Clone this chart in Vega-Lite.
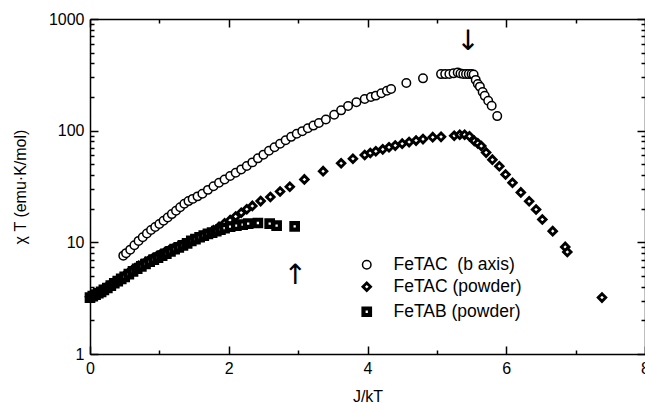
{
  "$schema": "https://vega.github.io/schema/vega-lite/v6.json",
  "width": 555,
  "height": 335,
  "autosize": {"type": "none"},
  "padding": {"left": 90, "top": 19, "right": 0, "bottom": 57},
  "background": "white",
  "config": {
    "view": {"stroke": null},
    "axis": {
      "domainColor": "black",
      "domainWidth": 1.5,
      "tickColor": "black",
      "tickWidth": 1.5,
      "grid": false,
      "labelFont": "Liberation Sans",
      "labelFontSize": 16,
      "labelColor": "black",
      "labelFlush": false,
      "labelOverlap": false,
      "titleFont": "Liberation Sans",
      "titleFontSize": 16,
      "titleFontWeight": "normal",
      "titleColor": "black"
    },
    "legend": {
      "labelFont": "Liberation Sans",
      "labelFontSize": 17.5,
      "labelColor": "black"
    }
  },
  "datasets": {
    "pts": [
      {"series": "FeTAC\u00a0 (b axis)", "jkt": 0.48, "chiT": 7.6},
      {"series": "FeTAC\u00a0 (b axis)", "jkt": 0.52, "chiT": 8.0},
      {"series": "FeTAC\u00a0 (b axis)", "jkt": 0.58, "chiT": 8.6},
      {"series": "FeTAC\u00a0 (b axis)", "jkt": 0.64, "chiT": 9.4},
      {"series": "FeTAC\u00a0 (b axis)", "jkt": 0.70, "chiT": 10.3},
      {"series": "FeTAC\u00a0 (b axis)", "jkt": 0.76, "chiT": 11.1},
      {"series": "FeTAC\u00a0 (b axis)", "jkt": 0.82, "chiT": 12.0},
      {"series": "FeTAC\u00a0 (b axis)", "jkt": 0.88, "chiT": 12.9},
      {"series": "FeTAC\u00a0 (b axis)", "jkt": 0.94, "chiT": 13.7},
      {"series": "FeTAC\u00a0 (b axis)", "jkt": 1.00, "chiT": 14.6},
      {"series": "FeTAC\u00a0 (b axis)", "jkt": 1.06, "chiT": 15.6},
      {"series": "FeTAC\u00a0 (b axis)", "jkt": 1.12, "chiT": 16.7},
      {"series": "FeTAC\u00a0 (b axis)", "jkt": 1.18, "chiT": 17.9},
      {"series": "FeTAC\u00a0 (b axis)", "jkt": 1.24, "chiT": 19.2},
      {"series": "FeTAC\u00a0 (b axis)", "jkt": 1.30, "chiT": 20.6},
      {"series": "FeTAC\u00a0 (b axis)", "jkt": 1.36, "chiT": 22.2},
      {"series": "FeTAC\u00a0 (b axis)", "jkt": 1.42, "chiT": 23.4},
      {"series": "FeTAC\u00a0 (b axis)", "jkt": 1.48, "chiT": 24.5},
      {"series": "FeTAC\u00a0 (b axis)", "jkt": 1.55, "chiT": 25.8},
      {"series": "FeTAC\u00a0 (b axis)", "jkt": 1.62, "chiT": 27.2},
      {"series": "FeTAC\u00a0 (b axis)", "jkt": 1.70, "chiT": 29.5},
      {"series": "FeTAC\u00a0 (b axis)", "jkt": 1.78, "chiT": 31.8},
      {"series": "FeTAC\u00a0 (b axis)", "jkt": 1.86, "chiT": 34.2},
      {"series": "FeTAC\u00a0 (b axis)", "jkt": 1.94, "chiT": 36.5},
      {"series": "FeTAC\u00a0 (b axis)", "jkt": 2.02, "chiT": 39.2},
      {"series": "FeTAC\u00a0 (b axis)", "jkt": 2.10, "chiT": 42.0},
      {"series": "FeTAC\u00a0 (b axis)", "jkt": 2.18, "chiT": 45.0},
      {"series": "FeTAC\u00a0 (b axis)", "jkt": 2.26, "chiT": 48.3},
      {"series": "FeTAC\u00a0 (b axis)", "jkt": 2.34, "chiT": 52},
      {"series": "FeTAC\u00a0 (b axis)", "jkt": 2.42, "chiT": 56.5},
      {"series": "FeTAC\u00a0 (b axis)", "jkt": 2.50, "chiT": 61},
      {"series": "FeTAC\u00a0 (b axis)", "jkt": 2.58, "chiT": 66},
      {"series": "FeTAC\u00a0 (b axis)", "jkt": 2.66, "chiT": 71},
      {"series": "FeTAC\u00a0 (b axis)", "jkt": 2.74, "chiT": 76.5},
      {"series": "FeTAC\u00a0 (b axis)", "jkt": 2.82, "chiT": 82},
      {"series": "FeTAC\u00a0 (b axis)", "jkt": 2.90, "chiT": 88},
      {"series": "FeTAC\u00a0 (b axis)", "jkt": 2.98, "chiT": 94},
      {"series": "FeTAC\u00a0 (b axis)", "jkt": 3.06, "chiT": 99},
      {"series": "FeTAC\u00a0 (b axis)", "jkt": 3.14, "chiT": 105},
      {"series": "FeTAC\u00a0 (b axis)", "jkt": 3.22, "chiT": 111},
      {"series": "FeTAC\u00a0 (b axis)", "jkt": 3.30, "chiT": 117},
      {"series": "FeTAC\u00a0 (b axis)", "jkt": 3.40, "chiT": 126},
      {"series": "FeTAC\u00a0 (b axis)", "jkt": 3.52, "chiT": 139},
      {"series": "FeTAC\u00a0 (b axis)", "jkt": 3.62, "chiT": 152},
      {"series": "FeTAC\u00a0 (b axis)", "jkt": 3.72, "chiT": 166},
      {"series": "FeTAC\u00a0 (b axis)", "jkt": 3.84, "chiT": 180},
      {"series": "FeTAC\u00a0 (b axis)", "jkt": 3.96, "chiT": 192},
      {"series": "FeTAC\u00a0 (b axis)", "jkt": 4.05, "chiT": 200},
      {"series": "FeTAC\u00a0 (b axis)", "jkt": 4.12, "chiT": 206},
      {"series": "FeTAC\u00a0 (b axis)", "jkt": 4.20, "chiT": 216},
      {"series": "FeTAC\u00a0 (b axis)", "jkt": 4.28, "chiT": 228},
      {"series": "FeTAC\u00a0 (b axis)", "jkt": 4.34, "chiT": 236},
      {"series": "FeTAC\u00a0 (b axis)", "jkt": 4.56, "chiT": 267},
      {"series": "FeTAC\u00a0 (b axis)", "jkt": 4.80, "chiT": 294},
      {"series": "FeTAC\u00a0 (b axis)", "jkt": 5.06, "chiT": 321},
      {"series": "FeTAC\u00a0 (b axis)", "jkt": 5.12, "chiT": 321},
      {"series": "FeTAC\u00a0 (b axis)", "jkt": 5.18, "chiT": 322},
      {"series": "FeTAC\u00a0 (b axis)", "jkt": 5.24, "chiT": 326},
      {"series": "FeTAC\u00a0 (b axis)", "jkt": 5.30, "chiT": 332},
      {"series": "FeTAC\u00a0 (b axis)", "jkt": 5.34, "chiT": 325},
      {"series": "FeTAC\u00a0 (b axis)", "jkt": 5.38, "chiT": 322},
      {"series": "FeTAC\u00a0 (b axis)", "jkt": 5.42, "chiT": 322},
      {"series": "FeTAC\u00a0 (b axis)", "jkt": 5.46, "chiT": 321},
      {"series": "FeTAC\u00a0 (b axis)", "jkt": 5.50, "chiT": 321},
      {"series": "FeTAC\u00a0 (b axis)", "jkt": 5.53, "chiT": 318},
      {"series": "FeTAC\u00a0 (b axis)", "jkt": 5.56, "chiT": 285},
      {"series": "FeTAC\u00a0 (b axis)", "jkt": 5.59, "chiT": 262},
      {"series": "FeTAC\u00a0 (b axis)", "jkt": 5.62, "chiT": 248},
      {"series": "FeTAC\u00a0 (b axis)", "jkt": 5.66, "chiT": 222},
      {"series": "FeTAC\u00a0 (b axis)", "jkt": 5.69, "chiT": 205},
      {"series": "FeTAC\u00a0 (b axis)", "jkt": 5.74, "chiT": 185},
      {"series": "FeTAC\u00a0 (b axis)", "jkt": 5.79, "chiT": 167},
      {"series": "FeTAC\u00a0 (b axis)", "jkt": 5.87, "chiT": 135},
      {"series": "FeTAC (powder)", "jkt": 0.00, "chiT": 3.25},
      {"series": "FeTAC (powder)", "jkt": 0.03, "chiT": 3.3},
      {"series": "FeTAC (powder)", "jkt": 0.06, "chiT": 3.35},
      {"series": "FeTAC (powder)", "jkt": 0.09, "chiT": 3.45},
      {"series": "FeTAC (powder)", "jkt": 0.12, "chiT": 3.55},
      {"series": "FeTAC (powder)", "jkt": 0.15, "chiT": 3.65},
      {"series": "FeTAC (powder)", "jkt": 0.18, "chiT": 3.75},
      {"series": "FeTAC (powder)", "jkt": 0.22, "chiT": 3.9},
      {"series": "FeTAC (powder)", "jkt": 0.26, "chiT": 4.05},
      {"series": "FeTAC (powder)", "jkt": 0.30, "chiT": 4.2},
      {"series": "FeTAC (powder)", "jkt": 0.34, "chiT": 4.35},
      {"series": "FeTAC (powder)", "jkt": 0.38, "chiT": 4.5},
      {"series": "FeTAC (powder)", "jkt": 0.42, "chiT": 4.65},
      {"series": "FeTAC (powder)", "jkt": 0.46, "chiT": 4.85},
      {"series": "FeTAC (powder)", "jkt": 0.50, "chiT": 5.05},
      {"series": "FeTAC (powder)", "jkt": 0.55, "chiT": 5.3},
      {"series": "FeTAC (powder)", "jkt": 0.60, "chiT": 5.6},
      {"series": "FeTAC (powder)", "jkt": 0.65, "chiT": 5.9},
      {"series": "FeTAC (powder)", "jkt": 0.70, "chiT": 6.15},
      {"series": "FeTAC (powder)", "jkt": 0.75, "chiT": 6.4},
      {"series": "FeTAC (powder)", "jkt": 0.80, "chiT": 6.65},
      {"series": "FeTAC (powder)", "jkt": 0.85, "chiT": 6.9},
      {"series": "FeTAC (powder)", "jkt": 0.90, "chiT": 7.15},
      {"series": "FeTAC (powder)", "jkt": 0.96, "chiT": 7.5},
      {"series": "FeTAC (powder)", "jkt": 1.02, "chiT": 7.85},
      {"series": "FeTAC (powder)", "jkt": 1.08, "chiT": 8.2},
      {"series": "FeTAC (powder)", "jkt": 1.14, "chiT": 8.5},
      {"series": "FeTAC (powder)", "jkt": 1.20, "chiT": 8.8},
      {"series": "FeTAC (powder)", "jkt": 1.27, "chiT": 9.2},
      {"series": "FeTAC (powder)", "jkt": 1.34, "chiT": 9.6},
      {"series": "FeTAC (powder)", "jkt": 1.41, "chiT": 10.0},
      {"series": "FeTAC (powder)", "jkt": 1.48, "chiT": 10.4},
      {"series": "FeTAC (powder)", "jkt": 1.55, "chiT": 10.9},
      {"series": "FeTAC (powder)", "jkt": 1.62, "chiT": 11.4},
      {"series": "FeTAC (powder)", "jkt": 1.70, "chiT": 12.0},
      {"series": "FeTAC (powder)", "jkt": 1.78, "chiT": 12.8},
      {"series": "FeTAC (powder)", "jkt": 1.86, "chiT": 13.8},
      {"series": "FeTAC (powder)", "jkt": 1.94, "chiT": 14.8},
      {"series": "FeTAC (powder)", "jkt": 2.02, "chiT": 15.8},
      {"series": "FeTAC (powder)", "jkt": 2.10, "chiT": 17.0},
      {"series": "FeTAC (powder)", "jkt": 2.18, "chiT": 18.4},
      {"series": "FeTAC (powder)", "jkt": 2.26, "chiT": 19.8},
      {"series": "FeTAC (powder)", "jkt": 2.34, "chiT": 21.2},
      {"series": "FeTAC (powder)", "jkt": 2.46, "chiT": 23.4},
      {"series": "FeTAC (powder)", "jkt": 2.60, "chiT": 25.5},
      {"series": "FeTAC (powder)", "jkt": 2.74, "chiT": 28.5},
      {"series": "FeTAC (powder)", "jkt": 2.88, "chiT": 31.5},
      {"series": "FeTAC (powder)", "jkt": 3.09, "chiT": 36.6},
      {"series": "FeTAC (powder)", "jkt": 3.36, "chiT": 43.4},
      {"series": "FeTAC (powder)", "jkt": 3.62, "chiT": 51},
      {"series": "FeTAC (powder)", "jkt": 3.79, "chiT": 56},
      {"series": "FeTAC (powder)", "jkt": 3.96, "chiT": 60.5},
      {"series": "FeTAC (powder)", "jkt": 4.04, "chiT": 63},
      {"series": "FeTAC (powder)", "jkt": 4.12, "chiT": 65.5},
      {"series": "FeTAC (powder)", "jkt": 4.22, "chiT": 68},
      {"series": "FeTAC (powder)", "jkt": 4.31, "chiT": 71},
      {"series": "FeTAC (powder)", "jkt": 4.40, "chiT": 73.5},
      {"series": "FeTAC (powder)", "jkt": 4.50, "chiT": 76.5},
      {"series": "FeTAC (powder)", "jkt": 4.60, "chiT": 79},
      {"series": "FeTAC (powder)", "jkt": 4.70, "chiT": 81.5},
      {"series": "FeTAC (powder)", "jkt": 4.80, "chiT": 84},
      {"series": "FeTAC (powder)", "jkt": 4.94, "chiT": 87.5},
      {"series": "FeTAC (powder)", "jkt": 5.06, "chiT": 88},
      {"series": "FeTAC (powder)", "jkt": 5.25, "chiT": 90},
      {"series": "FeTAC (powder)", "jkt": 5.33, "chiT": 92},
      {"series": "FeTAC (powder)", "jkt": 5.40, "chiT": 92},
      {"series": "FeTAC (powder)", "jkt": 5.47, "chiT": 89},
      {"series": "FeTAC (powder)", "jkt": 5.54, "chiT": 81},
      {"series": "FeTAC (powder)", "jkt": 5.59, "chiT": 77},
      {"series": "FeTAC (powder)", "jkt": 5.64, "chiT": 73},
      {"series": "FeTAC (powder)", "jkt": 5.71, "chiT": 63.6},
      {"series": "FeTAC (powder)", "jkt": 5.80, "chiT": 55},
      {"series": "FeTAC (powder)", "jkt": 5.90, "chiT": 48},
      {"series": "FeTAC (powder)", "jkt": 5.99, "chiT": 40.5},
      {"series": "FeTAC (powder)", "jkt": 6.09, "chiT": 34.2},
      {"series": "FeTAC (powder)", "jkt": 6.21, "chiT": 28},
      {"series": "FeTAC (powder)", "jkt": 6.33, "chiT": 23.3},
      {"series": "FeTAC (powder)", "jkt": 6.43, "chiT": 19.7},
      {"series": "FeTAC (powder)", "jkt": 6.52, "chiT": 16},
      {"series": "FeTAC (powder)", "jkt": 6.67, "chiT": 12.6},
      {"series": "FeTAC (powder)", "jkt": 6.85, "chiT": 9.1},
      {"series": "FeTAC (powder)", "jkt": 6.88, "chiT": 8.2},
      {"series": "FeTAC (powder)", "jkt": 7.38, "chiT": 3.2},
      {"series": "FeTAB (powder)", "jkt": 0.00, "chiT": 3.2},
      {"series": "FeTAB (powder)", "jkt": 0.04, "chiT": 3.3},
      {"series": "FeTAB (powder)", "jkt": 0.08, "chiT": 3.4},
      {"series": "FeTAB (powder)", "jkt": 0.12, "chiT": 3.5},
      {"series": "FeTAB (powder)", "jkt": 0.16, "chiT": 3.6},
      {"series": "FeTAB (powder)", "jkt": 0.20, "chiT": 3.75},
      {"series": "FeTAB (powder)", "jkt": 0.25, "chiT": 3.9},
      {"series": "FeTAB (powder)", "jkt": 0.30, "chiT": 4.1},
      {"series": "FeTAB (powder)", "jkt": 0.35, "chiT": 4.3},
      {"series": "FeTAB (powder)", "jkt": 0.40, "chiT": 4.5},
      {"series": "FeTAB (powder)", "jkt": 0.45, "chiT": 4.7},
      {"series": "FeTAB (powder)", "jkt": 0.50, "chiT": 4.9},
      {"series": "FeTAB (powder)", "jkt": 0.56, "chiT": 5.2},
      {"series": "FeTAB (powder)", "jkt": 0.62, "chiT": 5.5},
      {"series": "FeTAB (powder)", "jkt": 0.68, "chiT": 5.8},
      {"series": "FeTAB (powder)", "jkt": 0.74, "chiT": 6.1},
      {"series": "FeTAB (powder)", "jkt": 0.80, "chiT": 6.4},
      {"series": "FeTAB (powder)", "jkt": 0.86, "chiT": 6.7},
      {"series": "FeTAB (powder)", "jkt": 0.92, "chiT": 7.0},
      {"series": "FeTAB (powder)", "jkt": 0.98, "chiT": 7.3},
      {"series": "FeTAB (powder)", "jkt": 1.04, "chiT": 7.6},
      {"series": "FeTAB (powder)", "jkt": 1.10, "chiT": 7.9},
      {"series": "FeTAB (powder)", "jkt": 1.16, "chiT": 8.3},
      {"series": "FeTAB (powder)", "jkt": 1.22, "chiT": 8.7},
      {"series": "FeTAB (powder)", "jkt": 1.28, "chiT": 9.0},
      {"series": "FeTAB (powder)", "jkt": 1.34, "chiT": 9.4},
      {"series": "FeTAB (powder)", "jkt": 1.40, "chiT": 9.8},
      {"series": "FeTAB (powder)", "jkt": 1.46, "chiT": 10.3},
      {"series": "FeTAB (powder)", "jkt": 1.52, "chiT": 10.7},
      {"series": "FeTAB (powder)", "jkt": 1.58, "chiT": 11.1},
      {"series": "FeTAB (powder)", "jkt": 1.64, "chiT": 11.5},
      {"series": "FeTAB (powder)", "jkt": 1.70, "chiT": 11.9},
      {"series": "FeTAB (powder)", "jkt": 1.76, "chiT": 12.2},
      {"series": "FeTAB (powder)", "jkt": 1.82, "chiT": 12.6},
      {"series": "FeTAB (powder)", "jkt": 1.88, "chiT": 13.0},
      {"series": "FeTAB (powder)", "jkt": 1.94, "chiT": 13.4},
      {"series": "FeTAB (powder)", "jkt": 2.02, "chiT": 13.8},
      {"series": "FeTAB (powder)", "jkt": 2.11, "chiT": 14.1},
      {"series": "FeTAB (powder)", "jkt": 2.20, "chiT": 14.4},
      {"series": "FeTAB (powder)", "jkt": 2.28, "chiT": 14.7},
      {"series": "FeTAB (powder)", "jkt": 2.42, "chiT": 14.9},
      {"series": "FeTAB (powder)", "jkt": 2.59, "chiT": 14.7},
      {"series": "FeTAB (powder)", "jkt": 2.69, "chiT": 14.1},
      {"series": "FeTAB (powder)", "jkt": 2.95, "chiT": 13.9}
    ],
    "arrows": [
      {"jkt": 5.45, "chiT": 620, "t": "↓"},
      {"jkt": 2.96, "chiT": 5.0, "t": "↑"}
    ]
  },
  "layer": [
    {
      "data": {"name": "pts"},
      "mark": {"type": "point", "filled": true, "fill": "white", "stroke": "black", "opacity": 1},
      "encoding": {
        "x": {
          "field": "jkt", "type": "quantitative",
          "scale": {"domain": [0, 8], "nice": false, "zero": false},
          "axis": {
            "orient": "bottom",
            "values": [0, 1, 2, 3, 4, 5, 6, 7, 8],
            "tickSize": {"condition": {"test": "datum.value % 2 === 0", "value": -8}, "value": -4},
            "labelExpr": "datum.value % 2 === 0 ? datum.label : ''",
            "labelPadding": 14,
            "title": "J/kT",
            "titlePadding": 8
          }
        },
        "y": {
          "field": "chiT", "type": "quantitative",
          "scale": {"type": "log", "domain": [1, 1000], "nice": false},
          "axis": {
            "orient": "left",
            "values": [1, 2, 3, 4, 5, 6, 7, 8, 9, 10, 20, 30, 40, 50, 60, 70, 80, 90, 100, 200, 300, 400, 500, 600, 700, 800, 900, 1000],
            "format": "d",
            "tickSize": {"condition": {"test": "indexof([1, 10, 100, 1000], datum.value) >= 0", "value": -8}, "value": -4},
            "labelExpr": "indexof([1, 10, 100, 1000], datum.value) >= 0 ? datum.label : ''",
            "labelPadding": 14,
            "title": "χ  T (emu·K/mol)",
            "titlePadding": 20
          }
        },
        "shape": {
          "field": "series", "type": "nominal",
          "scale": {"domain": ["FeTAC\u00a0 (b axis)", "FeTAC (powder)", "FeTAB (powder)"], "range": ["circle", "diamond", "square"]},
          "legend": {
            "title": null, "orient": "none", "legendX": 268, "legendY": 237, "labelOffset": 18, "rowPadding": 3,
            "encode": {"symbols": {"update": {"fill": {"value": "white"}, "stroke": {"value": "black"}, "opacity": {"value": 1}}}}
          }
        },
        "size": {
          "field": "series", "type": "nominal",
          "scale": {"domain": ["FeTAC\u00a0 (b axis)", "FeTAC (powder)", "FeTAB (powder)"], "range": [72, 42, 44]}
        },
        "strokeWidth": {
          "field": "series", "type": "nominal",
          "scale": {"domain": ["FeTAC\u00a0 (b axis)", "FeTAC (powder)", "FeTAB (powder)"], "range": [1.5, 4.2, 3.6]}
        }
      }
    },
    {
      "data": {"name": "pts"},
      "mark": {"type": "point", "opacity": 0},
      "encoding": {
        "x": {
          "field": "jkt", "type": "quantitative",
          "scale": {"domain": [0, 8], "nice": false, "zero": false},
          "axis": {
            "orient": "top",
            "values": [0, 1, 2, 3, 4, 5, 6, 7, 8],
            "tickSize": {"condition": {"test": "datum.value % 2 === 0", "value": -8}, "value": -4},
            "labels": false,
            "title": null
          }
        },
        "y": {
          "field": "chiT", "type": "quantitative",
          "scale": {"type": "log", "domain": [1, 1000], "nice": false},
          "axis": {
            "orient": "right",
            "values": [1, 2, 3, 4, 5, 6, 7, 8, 9, 10, 20, 30, 40, 50, 60, 70, 80, 90, 100, 200, 300, 400, 500, 600, 700, 800, 900, 1000],
            "tickSize": {"condition": {"test": "indexof([1, 10, 100, 1000], datum.value) >= 0", "value": -8}, "value": -4},
            "labels": false,
            "title": null
          }
        }
      }
    },
    {
      "data": {"name": "arrows"},
      "mark": {"type": "text", "font": "DejaVu Sans", "fontSize": 28, "fill": "black", "baseline": "middle", "align": "center"},
      "encoding": {
        "x": {"field": "jkt", "type": "quantitative", "scale": {"domain": [0, 8], "nice": false, "zero": false}, "axis": null},
        "y": {"field": "chiT", "type": "quantitative", "scale": {"type": "log", "domain": [1, 1000], "nice": false}, "axis": null},
        "text": {"field": "t"}
      }
    }
  ],
  "resolve": {"axis": {"x": "independent", "y": "independent"}}
}
